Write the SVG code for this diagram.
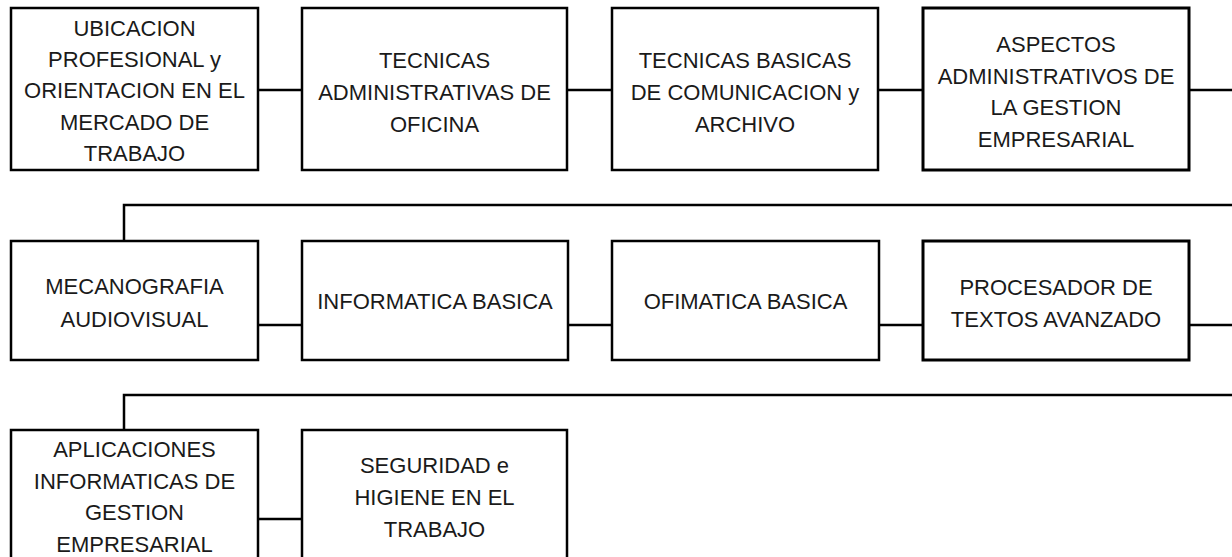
<svg xmlns="http://www.w3.org/2000/svg" width="1232" height="557" viewBox="0 0 1232 557">
<style>
.box{fill:#fff;stroke:#000;stroke-width:2.5}
.thick{stroke-width:3}
.lbl{font-family:"Liberation Sans",Arial,sans-serif;font-size:22px;fill:#1a1a1a;text-anchor:middle}
.con{fill:none;stroke:#000;stroke-width:2.5}
</style>
<rect width="1232" height="557" fill="#fff"/>
<g id="connectors">
<path class="con" d="M258 90H302M567 90H612M878 90H923M1189 90H1232"/>
<path class="con" d="M1232 205H124V241"/>
<path class="con" d="M258 325H302M568 325H612M879 325H923M1189 325H1232"/>
<path class="con" d="M1232 395H124V430"/>
<path class="con" d="M258 519H302"/>
</g>
<g id="n1"><rect class="box" x="11" y="8" width="247" height="162"/>
<text class="lbl" x="134.5" y="36">UBICACION<tspan x="134.5" y="67">PROFESIONAL y</tspan><tspan x="134.5" y="98">ORIENTACION EN EL</tspan><tspan x="134.5" y="130">MERCADO DE</tspan><tspan x="134.5" y="161">TRABAJO</tspan></text></g>
<g id="n2"><rect class="box" x="302" y="8" width="265" height="162"/>
<text class="lbl" x="434.5" y="68">TECNICAS<tspan x="434.5" y="100">ADMINISTRATIVAS DE</tspan><tspan x="434.5" y="132">OFICINA</tspan></text></g>
<g id="n3"><rect class="box" x="612" y="8" width="266" height="162"/>
<text class="lbl" x="745" y="68">TECNICAS BASICAS<tspan x="745" y="100">DE COMUNICACION y</tspan><tspan x="745" y="132">ARCHIVO</tspan></text></g>
<g id="n4"><rect class="box thick" x="923" y="8" width="266" height="162"/>
<text class="lbl" x="1056" y="52">ASPECTOS<tspan x="1056" y="84">ADMINISTRATIVOS DE</tspan><tspan x="1056" y="115">LA GESTION</tspan><tspan x="1056" y="147">EMPRESARIAL</tspan></text></g>
<g id="n5"><rect class="box" x="11" y="241" width="247" height="119"/>
<text class="lbl" x="134.5" y="294">MECANOGRAFIA<tspan x="134.5" y="327">AUDIOVISUAL</tspan></text></g>
<g id="n6"><rect class="box" x="302" y="241" width="266" height="119"/>
<text class="lbl" x="435" y="309">INFORMATICA BASICA</text></g>
<g id="n7"><rect class="box" x="612" y="241" width="267" height="119"/>
<text class="lbl" x="745.5" y="309">OFIMATICA BASICA</text></g>
<g id="n8"><rect class="box thick" x="923" y="241" width="266" height="119"/>
<text class="lbl" x="1056" y="295">PROCESADOR DE<tspan x="1056" y="327">TEXTOS AVANZADO</tspan></text></g>
<g id="n9"><rect class="box" x="11" y="430" width="247" height="140"/>
<text class="lbl" x="134.5" y="457">APLICACIONES<tspan x="134.5" y="489">INFORMATICAS DE</tspan><tspan x="134.5" y="520">GESTION</tspan><tspan x="134.5" y="552">EMPRESARIAL</tspan></text></g>
<g id="n10"><rect class="box" x="302" y="430" width="265" height="140"/>
<text class="lbl" x="434.5" y="473">SEGURIDAD e<tspan x="434.5" y="505">HIGIENE EN EL</tspan><tspan x="434.5" y="537">TRABAJO</tspan></text></g>
</svg>
